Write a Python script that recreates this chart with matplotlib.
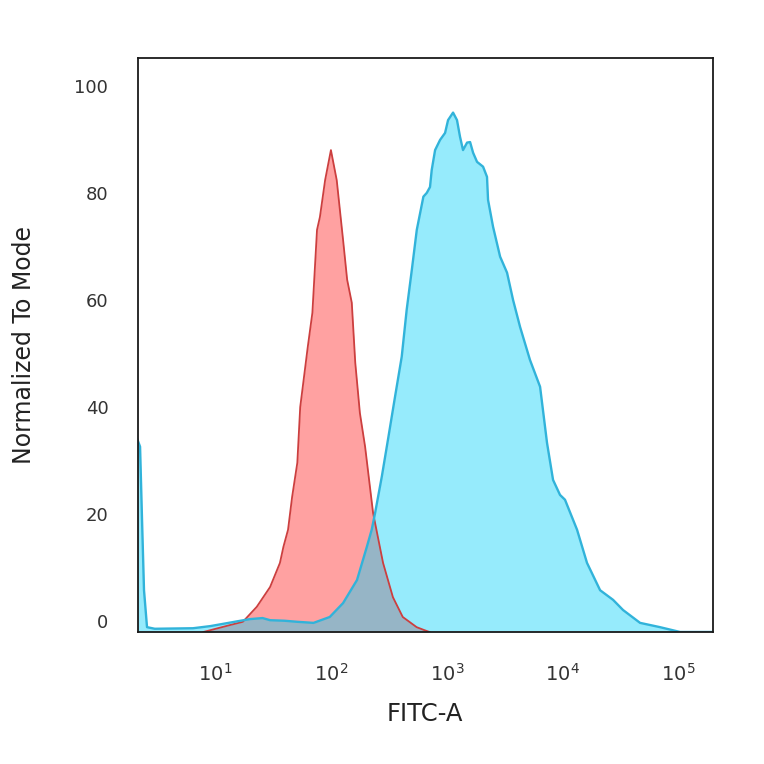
import numpy as np
import matplotlib
matplotlib.use("Agg")
import matplotlib.pyplot as plt
from matplotlib.transforms import ScaledTranslation

# histogram outlines: log10(FITC-A) and % of mode
red_log = [0.90, 1.13, 1.24, 1.36, 1.475, 1.56, 1.59, 1.63, 1.665, 1.71, 1.735,
           1.80, 1.84, 1.88, 1.905, 1.95, 2.00, 2.05, 2.105, 2.14, 2.18, 2.21,
           2.25, 2.295, 2.364, 2.45, 2.535, 2.62, 2.74, 2.80, 2.85]
red_pct = [0.0, 1.3, 1.9, 4.7, 8.4, 12.9, 15.9, 19.1, 25.2, 31.6, 42.0,
           53.2, 59.6, 75.1, 77.5, 84.4, 90.0, 84.4, 73.2, 65.8, 61.5, 50.3,
           40.9, 34.6, 22.2, 12.9, 6.5, 2.8, 0.9, 0.4, 0.0]

blue_log = [0.331, 0.353, 0.370, 0.387, 0.413, 0.48, 0.81, 0.96, 1.22, 1.30,
            1.41, 1.475, 1.60, 1.71, 1.85, 1.99, 2.105, 2.225, 2.31, 2.352,
            2.381, 2.439, 2.496, 2.553, 2.611, 2.654, 2.698, 2.741, 2.798,
            2.827, 2.855, 2.870, 2.899, 2.942, 2.985, 3.011, 3.054, 3.088,
            3.114, 3.140, 3.175, 3.201, 3.227, 3.261, 3.313, 3.347, 3.356,
            3.399, 3.460, 3.520, 3.572, 3.632, 3.718, 3.805, 3.865, 3.917,
            3.977, 4.020, 4.124, 4.210, 4.323, 4.435, 4.521, 4.668, 4.840,
            5.013, 5.30]
blue_pct = [35.9, 34.6, 20.9, 7.8, 0.9, 0.6, 0.7, 1.1, 2.1, 2.4,
            2.6, 2.2, 2.1, 1.9, 1.7, 2.8, 5.4, 9.7, 15.9, 19.1,
            22.2, 29.0, 36.4, 43.9, 51.4, 60.2, 67.6, 75.1, 81.3,
            82.0, 83.1, 86.3, 90.0, 91.9, 93.2, 95.6, 97.0, 95.6,
            92.5, 90.0, 91.4, 91.5, 89.5, 87.8, 86.9, 85.0, 80.7,
            75.7, 70.1, 67.1, 62.0, 57.0, 50.8, 45.8, 35.3, 28.4,
            25.6, 24.7, 19.1, 12.9, 7.8, 6.0, 4.1, 1.7, 0.9,
            0.0, 0.0]

x_decades = [1, 2, 3, 4, 5]
y_ticks = [0, 20, 40, 60, 80, 100]

red_x = 10 ** np.array(red_log)
blue_x = 10 ** np.array(blue_log)

fig = plt.figure(figsize=(7.64, 7.64), dpi=100)
ax = fig.add_axes([0.18, 0.1728, 0.7526, 0.7513])

ax.fill_between(red_x, 0, red_pct, color=(1.0, 0.0, 0.0), alpha=0.37, linewidth=0)
ax.plot(red_x, red_pct, color='#cc3f3f', linewidth=1.3)
ax.fill_between(blue_x, 0, blue_pct, color=(0.02, 0.82, 0.98), alpha=0.42, linewidth=0)
ax.plot(blue_x, blue_pct, color='#31b3da', linewidth=1.7)

ax.set_xscale('log')
ax.set_xlim(10 ** 0.331, 10 ** 5.293)
ax.set_ylim(0, 107.2)

ax.set_xticks([10 ** d for d in x_decades])
ax.set_xticklabels(['$10^{%d}$' % d for d in x_decades])
ax.xaxis.set_minor_locator(matplotlib.ticker.NullLocator())
ax.set_yticks(y_ticks)
ax.set_yticklabels([str(v) for v in y_ticks])
ax.tick_params(axis='x', length=0, pad=22, labelsize=14, labelcolor='#333333')
ax.tick_params(axis='y', length=0, pad=21, labelsize=13, labelcolor='#333333')

# FlowJo draws the y labels a little above their values
shift = ScaledTranslation(0, 11 / 100, fig.dpi_scale_trans)
for lab in ax.get_yticklabels():
    lab.set_transform(lab.get_transform() + shift)

for sp in ax.spines.values():
    sp.set_color('#1a1a1a')
    sp.set_linewidth(1.3)

ax.set_xlabel('FITC-A', fontsize=17.5, color='#222222')
ax.xaxis.set_label_coords(0.5, -0.122)
ax.set_ylabel('Normalized To Mode', fontsize=17, color='#222222')
ax.yaxis.set_label_coords(-0.1765, 0.5)

fig.savefig('out.png', dpi=100, facecolor='white')
